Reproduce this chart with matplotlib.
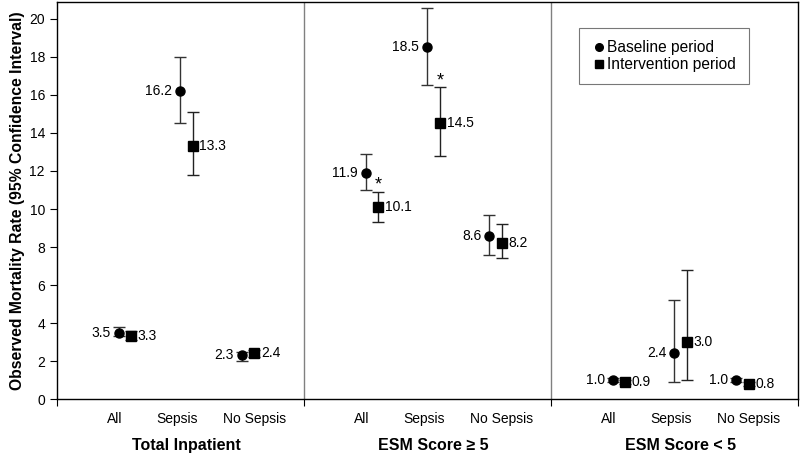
import numpy as np
import matplotlib
matplotlib.use("Agg")
import matplotlib.pyplot as plt
from matplotlib.lines import Line2D

plt.rcParams['font.family'] = ['Liberation Sans', 'DejaVu Sans']

groups = ['Total Inpatient', 'ESM Score \u2265 5', 'ESM Score < 5']
cats = ['All', 'Sepsis', 'No Sepsis']

# baseline period: rate, lower CI, upper CI (groups x cats)
base = [3.5, 16.2, 2.3, 11.9, 18.5, 8.6, 1.0, 2.4, 1.0]
base_lo = [3.3, 14.5, 2.0, 11.0, 16.5, 7.6, 0.9, 0.9, 0.9]
base_hi = [3.8, 18.0, 2.5, 12.9, 20.6, 9.7, 1.1, 5.2, 1.1]

# intervention period
intv = [3.3, 13.3, 2.4, 10.1, 14.5, 8.2, 0.9, 3.0, 0.8]
intv_lo = [3.1, 11.8, 2.2, 9.3, 12.8, 7.4, 0.8, 1.0, 0.7]
intv_hi = [3.6, 15.1, 2.6, 10.9, 16.4, 9.2, 1.0, 6.8, 0.9]

signif = [False, False, False, True, True, False, False, False, False]

fig = plt.figure(figsize=(8, 4.53), dpi=100)
ax = fig.add_axes([0.071, 0.119, 0.9265, 0.877])

# x positions: 3 categories per group, 4 units per group
xpos = np.array([g * 4 + c + 1 for g in range(3) for c in range(3)], dtype=float)
off = 0.2

base = np.array(base); intv = np.array(intv)
berr = [base - np.array(base_lo), np.array(base_hi) - base]
ierr = [intv - np.array(intv_lo), np.array(intv_hi) - intv]

ax.errorbar(xpos, base, yerr=berr, fmt='o', color='black', ecolor='#333333',
            elinewidth=1, capsize=4.2, capthick=1, markersize=6.5, zorder=3)
ax.errorbar(xpos + off, intv, yerr=ierr, fmt='s', color='black', ecolor='#222222',
            elinewidth=1, capsize=4.2, capthick=1, markersize=7, zorder=3)

for x, v in zip(xpos, base):
    ax.text(x - 0.13, v, f'{v:.1f}', ha='right', va='center', fontsize=10)
for x, v in zip(xpos + off, intv):
    ax.text(x + 0.11, v, f'{v:.1f}', ha='left', va='center', fontsize=10)
for x, hi, s in zip(xpos + off, intv_hi, signif):
    if s:
        ax.text(x, hi - 0.1, '*', ha='center', va='bottom', fontsize=13)

for b in [4, 8]:
    ax.axvline(b, color='#808080', linewidth=1)

ax.set_xlim(0, 12)
ax.set_ylim(0, 20.9)
ax.set_yticks(np.arange(0, 21, 2))
ax.set_xticks([0, 4, 8, 12])
ax.set_xticklabels([])
label_shift = np.tile([-0.06, -0.05, 0.2], 3)
ax.set_xticks(xpos + label_shift, minor=True)
ax.set_xticklabels(cats * 3, minor=True)
ax.tick_params(axis='x', which='minor', length=0, pad=9, labelsize=10)
ax.tick_params(axis='x', which='major', length=5, direction='out')
ax.tick_params(axis='y', labelsize=10, length=5)

for i, g in enumerate(groups):
    ax.text(i * 4 + 2.1, -2.42, g, ha='center', va='center', fontsize=11.5,
            fontweight='bold')

ax.set_ylabel('Observed Mortality Rate (95% Confidence Interval)',
              fontsize=11.3, fontweight='bold', labelpad=3)

handles = [Line2D([], [], marker='o', color='black', linestyle='none', markersize=5.5),
           Line2D([], [], marker='s', color='black', linestyle='none', markersize=5.5)]
leg = ax.legend(handles, ['Baseline period', 'Intervention period'],
                loc='upper left', bbox_to_anchor=(0.704, 0.934), fontsize=11.2,
                frameon=True, fancybox=False, edgecolor='#555555',
                handletextpad=0.05, handlelength=1.0, borderpad=0.8, labelspacing=0.1,
                borderaxespad=0)
leg.get_frame().set_linewidth(0.8)

for sp in ax.spines.values():
    sp.set_linewidth(1)

fig.savefig('out.png', dpi=100)
